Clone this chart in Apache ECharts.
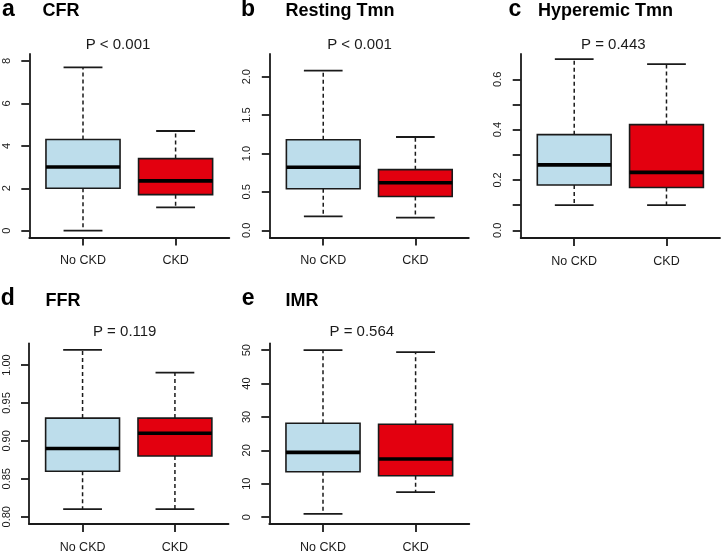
<!DOCTYPE html>
<html>
<head>
<meta charset="utf-8">
<script src="https://cdn.jsdelivr.net/npm/echarts@6/dist/echarts.min.js"></script>
<style>
html,body{margin:0;padding:0;background:#fff;}
#chart{width:722px;height:554px;}
</style>
</head>
<body>
<div id="chart"></div>
<script>
// ---- data (min, Q1, median, Q3, max) ----
const groups = ['No CKD', 'CKD'];
const cfrNoCKD  = [0, 2.0, 3.0, 4.3, 7.7];
const cfrCKD    = [1.1, 1.7, 2.35, 3.4, 4.7];
const restNoCKD = [0.18, 0.54, 0.82, 1.18, 2.08];
const restCKD   = [0.165, 0.44, 0.62, 0.79, 1.215];
const hypNoCKD  = [0.10, 0.18, 0.26, 0.38, 0.68];
const hypCKD    = [0.10, 0.17, 0.23, 0.42, 0.66];
const ffrNoCKD  = [0.81, 0.86, 0.89, 0.93, 1.02];
const ffrCKD    = [0.81, 0.88, 0.91, 0.93, 0.99];
const imrNoCKD  = [1.0, 13.6, 19.4, 28.1, 50.0];
const imrCKD    = [7.5, 12.4, 17.4, 27.8, 49.4];

// ---- tick values / labels ----
const cfrTicks  = [0, 2, 4, 6, 8];
const cfrLabels = [0, 2, 4, 6, 8];
const restTicks  = [0, 0.5, 1, 1.5, 2];
const restLabels = [0, 0.5, 1, 1.5, 2];
const hypTicks  = [0, 0.1, 0.2, 0.3, 0.4, 0.5, 0.6];
const hypLabels = [0, 0.2, 0.4, 0.6];
const ffrTicks  = [0.80, 0.85, 0.90, 0.95, 1.00];
const ffrLabels = [0.80, 0.85, 0.90, 0.95, 1.00];
const imrTicks  = [0, 10, 20, 30, 40, 50];
const imrLabels = [0, 10, 20, 30, 40, 50];

const letters = ['a', 'b', 'c', 'd', 'e'];
const titles = ['CFR', 'Resting Tmn', 'Hyperemic Tmn', 'FFR', 'IMR'];
const pTexts = ['P < 0.001', 'P < 0.001', 'P = 0.443', 'P = 0.119', 'P = 0.564'];

const panelData = [
  [cfrNoCKD, cfrCKD], [restNoCKD, restCKD], [hypNoCKD, hypCKD], [ffrNoCKD, ffrCKD], [imrNoCKD, imrCKD]
];
const panelTicks = [cfrTicks, restTicks, hypTicks, ffrTicks, imrTicks];
const panelLabels = [cfrLabels, restLabels, hypLabels, ffrLabels, imrLabels];
const labelDigits = [0, 1, 1, 2, 0];

// ---- layout ----
const layout = [
  {left: 29.3, top: 54, width: 200, height: 183.5, ymin: -0.32, ymax: 8.33,
   lx: 2, ly: 9.3, tx: 42.4, ty: 10.8, px: 118, py: 44.7},
  {left: 269.8, top: 54, width: 199, height: 183.5, ymin: -0.094, ymax: 2.296,
   lx: 241, ly: 9.3, tx: 285.4, ty: 10.8, px: 359.5, py: 44.7},
  {left: 520.7, top: 54, width: 199.3, height: 184, ymin: -0.0306, ymax: 0.7005,
   lx: 508.5, ly: 9.3, tx: 538, ty: 10.8, px: 613.3, py: 44.7},
  {left: 29, top: 343.3, width: 199.5, height: 183.4, ymin: 0.7904, ymax: 1.0286,
   lx: 0.7, ly: 298.3, tx: 45.4, ty: 300.8, px: 124.7, py: 332},
  {left: 269.3, top: 343.3, width: 200, height: 183.7, ymin: -2.06, ymax: 52.06,
   lx: 241.7, ly: 298.3, tx: 285.4, ty: 300.8, px: 361.8, py: 332}
];

const fills = ['#BDDDEB', '#E3000F'];
const ink = '#1a1a1a';
const FONT = 'Liberation Sans, Arial, Helvetica, sans-serif';

const grids = [], xAxes = [], yAxes = [], series = [], graphics = [];

layout.forEach((L, i) => {
  grids.push({left: L.left, top: L.top, width: L.width, height: L.height, containLabel: false});
  xAxes.push({
    gridIndex: i, type: 'value', min: 0.42, max: 2.58,
    splitLine: {show: false},
    axisLine: {show: true, onZero: false, lineStyle: {color: ink, width: 1.8}},
    axisTick: {show: true, length: 8, customValues: [1, 2], lineStyle: {color: ink, width: 1.8}},
    axisLabel: {customValues: [1, 2], formatter: v => groups[Math.round(v) - 1],
      fontSize: 12.5, color: ink, margin: 17, fontFamily: FONT}
  });
  const d = labelDigits[i];
  yAxes.push({
    gridIndex: i, type: 'value', min: L.ymin, max: L.ymax,
    splitLine: {show: false},
    axisLine: {show: true, onZero: false, lineStyle: {color: ink, width: 1.8}},
    axisTick: {show: true, length: 8, customValues: panelTicks[i], lineStyle: {color: ink, width: 1.8}},
    axisLabel: {customValues: panelLabels[i], formatter: v => Number(v).toFixed(d),
      rotate: 90, fontSize: 11, color: ink, margin: 17, fontFamily: FONT}
  });
  const pd = panelData[i];
  series.push({
    type: 'custom', xAxisIndex: i, yAxisIndex: i,
    data: pd.map((s, k) => [k + 1].concat(s)),
    encode: {x: 0, y: [1, 2, 3, 4, 5]},
    renderItem: function (params, api) {
      const x = api.value(0);
      const lo = api.value(1), q1 = api.value(2), med = api.value(3), q3 = api.value(4), hi = api.value(5);
      const bw = api.size([0.8, 0])[0];
      const cw = api.size([0.42, 0])[0];
      const pLo = api.coord([x, lo]), pQ1 = api.coord([x, q1]), pMed = api.coord([x, med]);
      const pQ3 = api.coord([x, q3]), pHi = api.coord([x, hi]);
      const cx = pMed[0];
      const dash = {stroke: ink, lineWidth: 1.5, lineDash: [4, 3]};
      const solid = {stroke: ink, lineWidth: 1.8};
      return {
        type: 'group',
        children: [
          {type: 'line', shape: {x1: cx, y1: pQ3[1], x2: cx, y2: pHi[1]}, style: dash},
          {type: 'line', shape: {x1: cx, y1: pQ1[1], x2: cx, y2: pLo[1]}, style: dash},
          {type: 'line', shape: {x1: cx - cw / 2, y1: pHi[1], x2: cx + cw / 2, y2: pHi[1]}, style: solid},
          {type: 'line', shape: {x1: cx - cw / 2, y1: pLo[1], x2: cx + cw / 2, y2: pLo[1]}, style: solid},
          {type: 'rect', shape: {x: cx - bw / 2, y: pQ3[1], width: bw, height: pQ1[1] - pQ3[1]},
           style: {fill: fills[params.dataIndex], stroke: ink, lineWidth: 1.6}},
          {type: 'line', shape: {x1: cx - bw / 2, y1: pMed[1], x2: cx + bw / 2, y2: pMed[1]},
           style: {stroke: '#000', lineWidth: 3.6}}
        ]
      };
    }
  });
  graphics.push({type: 'text', x: L.lx, y: L.ly,
    style: {text: letters[i], font: 'bold 23px ' + FONT, fill: '#000', textAlign: 'left', textVerticalAlign: 'middle'}});
  graphics.push({type: 'text', x: L.tx, y: L.ty,
    style: {text: titles[i], font: 'bold 18px ' + FONT, fill: '#000', textAlign: 'left', textVerticalAlign: 'middle'}});
  graphics.push({type: 'text', x: L.px, y: L.py,
    style: {text: pTexts[i], font: '15px ' + FONT, fill: ink, textAlign: 'center', textVerticalAlign: 'middle'}});
});

const chart = echarts.init(document.getElementById('chart'), null, {renderer: 'canvas'});
chart.setOption({
  animation: false,
  backgroundColor: '#fff',
  grid: grids, xAxis: xAxes, yAxis: yAxes, series: series,
  graphic: graphics
});
</script>
</body>
</html>
